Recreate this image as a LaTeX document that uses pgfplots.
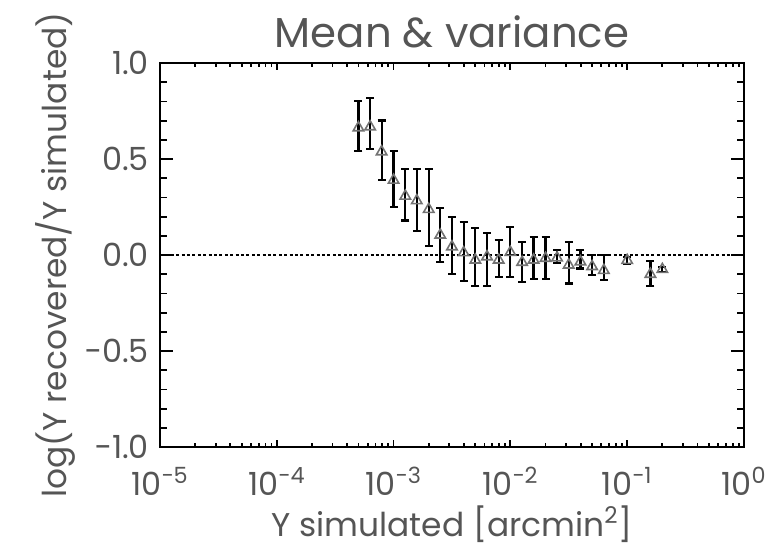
\documentclass[border=0pt]{standalone}
\usepackage{fontspec}
\setmainfont{Poppins}
\usepackage{pgfplots}
\pgfplotsset{compat=1.18}
\definecolor{txt}{RGB}{85,85,85}
\begin{document}
\begin{tikzpicture}
\useasboundingbox (-80bp,-50.5bp) rectangle (307bp,223.5bp);
% x ticks are shorter than y ticks: draw them from a second, bare axis
\begin{axis}[
  at={(0,0)}, anchor=south west,
  scale only axis, width=292bp, height=192bp,
  xmode=log, xmin=1e-5, xmax=1, ymin=-1, ymax=1,
  xtick={1e-5,1e-4,1e-3,1e-2,1e-1,1},
  tick align=inside,
  every tick/.style={black,line width=0.9bp},
  ytick=\empty, xticklabels={},
  axis line style={draw=none},
  major tick length=3.5bp, minor tick length=2bp,
]
\addplot[draw=none] coordinates {(1e-3,0)};
\end{axis}
\begin{axis}[
  at={(0,0)}, anchor=south west,
  scale only axis, width=292bp, height=192bp,
  xmode=log, xmin=1e-5, xmax=1, ymin=-1, ymax=1,
  xtick={1e-5,1e-4,1e-3,1e-2,1e-1,1},
  tick align=inside,
  every tick/.style={black,line width=0.9bp},
  xticklabels={10\textsuperscript{−5},10\textsuperscript{−4},10\textsuperscript{−3},10\textsuperscript{−2},10\textsuperscript{−1},10\textsuperscript{0}},
  ytick={-1,-0.5,0,0.5,1},
  yticklabels={−1.0,−0.5,0.0,0.5,1.0},
  minor ytick={-0.9,-0.8,-0.7,-0.6,-0.4,-0.3,-0.2,-0.1,0.1,0.2,0.3,0.4,0.6,0.7,0.8,0.9},
  xtick style={draw=none}, minor x tick style={draw=none},
  axis line style={line width=1bp},
  major tick length=6.5bp, minor tick length=3.5bp,
  tick label style={font=\fontsize{16}{18}\selectfont, text=txt},
  xticklabel style={yshift=-6.5bp},
  yticklabel style={xshift=-2bp},
  title={Mean \& variance},
  title style={font=\fontsize{21}{23}\selectfont, text=txt, yshift=-2bp},
  xlabel={Y simulated [arcmin\textsuperscript{2}]},
  ylabel={log(Y recovered/Y simulated)},
  label style={font=\fontsize{16.5}{18}\selectfont, text=txt},
  xlabel style={yshift=2bp},
  ylabel style={yshift=-2bp},
]
\addplot[black, line width=0.6bp, dash pattern=on 1.5bp off 1.2bp] coordinates {(1e-5,0) (1,0)};
\addplot[
  only marks, mark=triangle, mark size=3bp,
  mark options={draw=black!55, line width=0.8bp},
  error bars/.cd, y dir=both, y explicit,
  error bar style={black, line width=1.1bp},
  error mark options={rotate=90, mark size=2bp, black, line width=1.1bp},
] table[x=x, y=y, y error plus=ep, y error minus=em] {
x        y       ep     em
5.0e-4   0.663   0.137  0.123
6.3e-4   0.668   0.148  0.118
7.9e-4   0.538   0.162  0.148
1.0e-3   0.390   0.150  0.140
1.26e-3  0.307   0.139  0.127
1.58e-3  0.283   0.163  0.158
2.0e-3   0.238   0.208  0.191
2.51e-3  0.104   0.139  0.139
3.16e-3  0.043   0.153  0.143
3.98e-3  0.012   0.158  0.147
5.01e-3  -0.026  0.165  0.134
6.31e-3  -0.009  0.122  0.151
7.94e-3  -0.026  0.104  0.087
1.0e-2   0.014   0.133  0.127
1.26e-2  -0.038  0.104  0.101
1.58e-2  -0.026  0.118  0.101
2.0e-2   -0.017  0.109  0.110
2.51e-2  -0.015  0.041  0.025
3.16e-2  -0.052  0.121  0.096
3.98e-2  -0.035  0.061  0.035
5.01e-2  -0.060  0.060  0.044
6.31e-2  -0.080  0.080  0.050
1.0e-1   -0.028  0.019  0.017
1.58e-1  -0.100  0.069  0.060
2.0e-1   -0.075  0.014  0.012
};
\end{axis}
\end{tikzpicture}
\end{document}
